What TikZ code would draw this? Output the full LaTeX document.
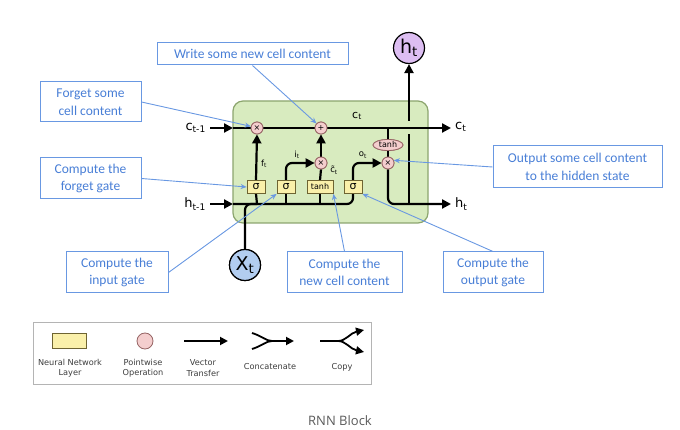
\documentclass[tikz,border=0pt]{standalone}
\usepackage{fontspec}
\setmainfont{DejaVu Sans}
\newfontfamily\calib{Carlito}
\newfontfamily\capfont{Open Sans}
\usetikzlibrary{arrows.meta,shapes.geometric,calc}
\definecolor{cellfill}{RGB}{216,235,191}
\definecolor{celldraw}{RGB}{140,165,110}
\definecolor{gatefill}{RGB}{250,240,170}
\definecolor{gatedraw}{RGB}{110,100,50}
\definecolor{pwfill}{RGB}{244,206,206}
\definecolor{pwdraw}{RGB}{150,100,100}
\definecolor{htfill}{RGB}{221,190,242}
\definecolor{xtfill}{RGB}{178,205,240}
\definecolor{cblue}{RGB}{105,152,226}
\definecolor{ctext}{RGB}{72,126,214}
\definecolor{lggray}{RGB}{180,180,180}
\definecolor{lgtext}{RGB}{60,60,60}
\definecolor{captext}{RGB}{90,90,90}
\begin{document}
\begin{tikzpicture}[x=1pt,y=-1pt,
  flow/.style={line width=2.2pt,draw=black},
  flowarrow/.style={flow,-{Triangle[length=9pt,width=9pt]}},
  gatebox/.style={rectangle,draw=gatedraw,fill=gatefill,line width=0.8pt,minimum width=18pt,minimum height=13pt,inner sep=0pt,font=\fontsize{11}{11}\selectfont},
  pw/.style={circle,draw=pwdraw,fill=pwfill,line width=0.8pt,minimum size=12pt,inner sep=0pt,font=\fontsize{8}{8}\selectfont},
  callout/.style={rectangle,draw=cblue,line width=1pt,text=ctext,align=center,inner sep=2pt,font=\calib\fontsize{13.5}{17.5}\selectfont},
  callarrow/.style={draw=cblue,line width=0.9pt,-{Stealth[length=6pt,width=5pt]}},
  lbl/.style={font=\fontsize{13}{13}\selectfont,inner sep=0pt},
  small/.style={font=\fontsize{8.5}{8.5}\selectfont,inner sep=0pt},
  lgtxt/.style={font=\fontsize{8.2}{10.5}\selectfont,text=lgtext,align=center,inner sep=0pt},
  lgarrow/.style={line width=1.8pt,-{Triangle[length=8pt,width=8pt]}}
]
\useasboundingbox (0,0) rectangle (680,430);
% cell body
\draw[fill=cellfill,draw=celldraw,line width=1.2pt,rounded corners=10pt] (233,101) rectangle (428,223);
% coordinates
\coordinate (cin) at (210,128);
\coordinate (cinE) at (233,128);
\coordinate (cout) at (451,128);
\coordinate (hin) at (210,204);
\coordinate (hinE) at (233,204);
\coordinate (hout) at (451,204);
\coordinate (cc) at (388,128);
\coordinate (hv1) at (409,204);
\coordinate (hv2) at (409,134);
\coordinate (hv3) at (409,121);
% nodes
\node[pw] (fx) at (257,128) {×};
\node[pw] (plus) at (321,128) {+};
\node[pw] (ix) at (321,163) {×};
\node[pw] (ox) at (388,163) {×};
\node[ellipse,draw=pwdraw,fill=pwfill,line width=0.8pt,minimum width=30pt,minimum height=11pt,inner sep=0pt,font=\fontsize{8}{8}\selectfont] (th) at (388,145) {tanh};
\node[gatebox] (sf) at (256,187) {σ};
\node[gatebox] (si) at (286,187) {σ};
\node[gatebox,minimum width=26pt,font=\fontsize{8}{8}\selectfont] (tg) at (320,187) {tanh};
\node[gatebox] (so) at (353,187) {σ};
\node[circle,draw=black,fill=htfill,line width=1.2pt,minimum size=31pt,inner sep=0pt,font=\fontsize{19}{19}\selectfont] (ht) at (409,48) {h\textsubscript{t}};
\node[circle,draw=black,fill=xtfill,line width=1.2pt,minimum size=31pt,inner sep=0pt,font=\fontsize{19}{19}\selectfont] (xt) at (245,265) {X\textsubscript{t}};
% flows
\draw[flowarrow] (cin) -- (cinE);
\draw[flowarrow] (hin) -- (hinE);
\draw[flow] (cinE) -- (fx.west);
\draw[flow] (fx.east) -- (plus.west);
\draw[flowarrow] (plus.east) -- (cout);
\draw[flow,rounded corners=6pt] (hinE) -- (353,204) -- (so.south);
\draw[flow] (257,204) -- (sf.south);
\draw[flow] (286,204) -- (si.south);
\draw[flow] (320,204) -- (tg.south);
\draw[flow,rounded corners=6pt] (xt.north) -- (245,204) -- (257,204);
\draw[flowarrow] (sf.north) -- (fx.south);
\draw[flowarrow,rounded corners=6pt] (si.north) -- (286,163) -- (ix.west);
\draw[flow] (tg.north) -- (ix.south);
\draw[flowarrow] (ix.north) -- (plus.south);
\draw[flowarrow,rounded corners=6pt] (so.north) -- (353,163) -- (ox.west);
\draw[flow] (cc) -- (th.north);
\draw[flow] (th.south) -- (ox.north);
\draw[flowarrow,rounded corners=6pt] (ox.south) -- (388,204) -- (hout);
\draw[flow] (hv1) -- (hv2);
\draw[flowarrow] (hv3) -- (ht.south);
% redraw nodes on top
\node[pw] at (fx) {×};
\node[pw] at (plus) {+};
\node[pw] at (ix) {×};
\node[pw] at (ox) {×};
\node[ellipse,draw=pwdraw,fill=pwfill,line width=0.8pt,minimum width=30pt,minimum height=11pt,inner sep=0pt,font=\fontsize{8}{8}\selectfont] at (th) {tanh};
\node[gatebox] at (sf) {σ};
\node[gatebox] at (si) {σ};
\node[gatebox,minimum width=26pt,font=\fontsize{8}{8}\selectfont] at (tg) {tanh};
\node[gatebox] at (so) {σ};
\node[circle,draw=black,fill=xtfill,line width=1.2pt,minimum size=31pt,inner sep=0pt,font=\fontsize{19}{19}\selectfont] at (xt) {X\textsubscript{t}};
% labels
\node[lbl,anchor=east] (lcin) at (206,128) {c\textsubscript{t-1}};
\node[lbl,anchor=east] (lhin) at (206,204) {h\textsubscript{t-1}};
\node[lbl,anchor=west] (lcout) at (455,127) {c\textsubscript{t}};
\node[lbl,anchor=west] (lhout) at (455,204) {h\textsubscript{t}};
\node[lbl,font=\fontsize{11}{11}\selectfont] (lct) at (357,116) {c\textsubscript{t}};
\node[small] (lft) at (264,164) {f\textsubscript{t}};
\node[small] (lit) at (297,155) {i\textsubscript{t}};
\node[small] (lot) at (363,155) {o\textsubscript{t}};
\node[small] (lctt) at (334,170) {\~{c}\textsubscript{t}};
% callouts
\node[callout,minimum width=191pt,minimum height=22pt] (wr) at (252.5,54) {Write some new cell content};
\node[callout,minimum width=101pt,minimum height=40pt] (fg) at (90.5,102) {Forget some\\cell content};
\node[callout,minimum width=101pt,minimum height=41pt] (fgg) at (90.5,178.5) {Compute the\\forget gate};
\node[callout,minimum width=102pt,minimum height=41pt] (ig) at (117,272.5) {Compute the\\input gate};
\node[callout,minimum width=115pt,minimum height=41pt] (nc) at (344.5,272.5) {Compute the\\new cell content};
\node[callout,minimum width=100pt,minimum height=41pt] (og) at (493,272.5) {Compute the\\output gate};
\node[callout,minimum width=169pt,minimum height=42pt] (oc) at (577.5,167) {Output some cell content\\to the hidden state};
\draw[callarrow] (wr.south) -- (plus.north west);
\draw[callarrow] (fg.east) -- (fx.165);
\draw[callarrow] (fgg.east) -- (sf.west);
\draw[callarrow] (ig.east) -- (si.south west);
\draw[callarrow] (nc.north) -- (tg.south east);
\draw[callarrow] (og.north) -- (so.south east);
\draw[callarrow] (oc.west) -- (ox.25);
% legend
\draw[draw=lggray,line width=1pt] (33,323) rectangle (371,384);
\node[rectangle,draw=gatedraw,fill=gatefill,line width=0.8pt,minimum width=34pt,minimum height=15pt,inner sep=0pt] (lnn) at (69,341) {};
\node[circle,draw=pwdraw,fill=pwfill,line width=0.8pt,minimum size=16pt,inner sep=0pt] (lpw) at (145,341) {};
\coordinate (lva) at (184,341);
\coordinate (lvb) at (228,341);
\draw[lgarrow] (lva) -- (lvb);
\coordinate (lca) at (252,333);
\coordinate (lcb) at (252,349);
\coordinate (lcm) at (272,341);
\coordinate (lce) at (294,341);
\draw[line width=1.8pt] (lca) .. controls (262,336) and (266,341) .. (lcm);
\draw[line width=1.8pt] (lcb) .. controls (262,346) and (266,341) .. (lcm);
\draw[lgarrow] (lcm) -- (lce);
\coordinate (lpa) at (320,341);
\coordinate (lpm) at (338,341);
\coordinate (lpu) at (364,330);
\coordinate (lpd) at (364,352);
\draw[line width=1.8pt] (lpa) -- (lpm);
\draw[lgarrow] (lpm) .. controls (346,341) and (350,333) .. (lpu);
\draw[lgarrow] (lpm) .. controls (346,341) and (350,349) .. (lpd);
\node[lgtxt] (tnn) at (70,368) {Neural Network\\Layer};
\node[lgtxt] (tpw) at (143,368) {Pointwise\\Operation};
\node[lgtxt] (tvt) at (203,368) {Vector\\Transfer};
\node[lgtxt] (tcc) at (270,367) {Concatenate};
\node[lgtxt] (tcp) at (342,367) {Copy};
% caption
\node[font=\capfont\fontsize{13}{13}\selectfont,text=captext] (cap) at (340,421) {RNN Block};
\end{tikzpicture}
\end{document}
